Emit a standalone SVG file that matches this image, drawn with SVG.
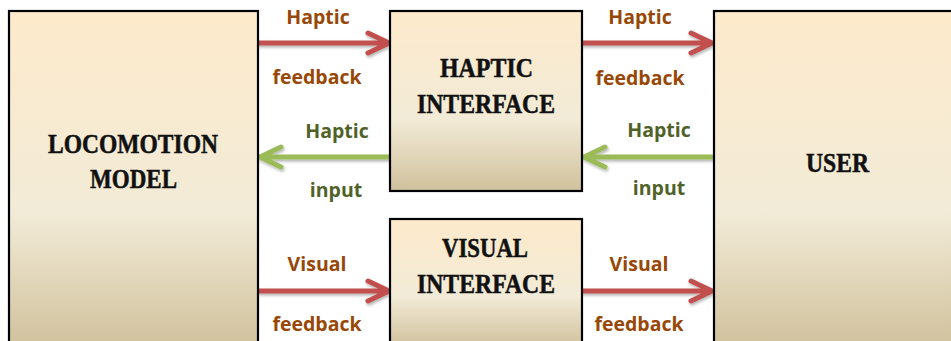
<svg xmlns="http://www.w3.org/2000/svg" width="951" height="341" viewBox="0 0 951 341">
<defs>
<linearGradient id="boxg" x1="0" y1="0" x2="0" y2="1">
<stop offset="0" stop-color="#FDEACB"/>
<stop offset="0.6" stop-color="#F2EBD7"/>
<stop offset="1" stop-color="#D0C19C"/>
</linearGradient>
<filter id="sh" x="-10%" y="-50%" width="130%" height="250%">
<feDropShadow dx="1" dy="2" stdDeviation="1.5" flood-color="#000" flood-opacity="0.3"/>
</filter>
<style>
.box{fill:url(#boxg);stroke:#000;stroke-width:2.2}
.bt{font-family:"Liberation Serif","Times New Roman",serif;font-weight:bold;font-size:27px;fill:#111;stroke:#111;stroke-width:0.5;text-anchor:middle}
.lbl{font-family:"Open Sans","Liberation Sans",sans-serif;font-weight:bold;font-size:19.5px;text-anchor:middle}
.red{fill:#984806}
.grn{fill:#4F6228}
.ar{fill:none;stroke-width:5;stroke-linecap:round;stroke-linejoin:round;filter:url(#sh)}
.ra{stroke:#C0504D}
.ga{stroke:#9BBB59}
</style>
</defs>
<g id="connectors">
<path class="ar ra" d="M259 43 H388 M368 33 L389 43 L368 53"/>
<path class="ar ra" d="M583 43 H711 M691 33 L712 43 L691 53"/>
<path class="ar ga" d="M712 157 H585 M605 147 L584 157 L605 167"/>
<path class="ar ga" d="M389 157 H261 M281 147 L260 157 L281 167"/>
<path class="ar ra" d="M259 291 H388 M368 281 L389 291 L368 301"/>
<path class="ar ra" d="M583 291 H711 M691 281 L712 291 L691 301"/>
<text class="lbl red" x="318" y="24">Haptic</text>
<text class="lbl red" x="317" y="84">feedback</text>
<text class="lbl red" x="640" y="24">Haptic</text>
<text class="lbl red" x="640" y="85">feedback</text>
<text class="lbl grn" x="337" y="138">Haptic</text>
<text class="lbl grn" x="336" y="197">input</text>
<text class="lbl grn" x="659" y="137">Haptic</text>
<text class="lbl grn" x="659" y="195">input</text>
<text class="lbl red" x="317" y="271">Visual</text>
<text class="lbl red" x="317" y="331">feedback</text>
<text class="lbl red" x="639" y="271">Visual</text>
<text class="lbl red" x="639" y="331">feedback</text>
</g>
<g id="locomotion">
<rect class="box" x="9" y="11" width="249" height="336"/>
<text class="bt" x="133" y="153" textLength="170" lengthAdjust="spacingAndGlyphs">LOCOMOTION</text>
<text class="bt" x="133.5" y="188" textLength="87" lengthAdjust="spacingAndGlyphs">MODEL</text>
</g>
<g id="haptic">
<rect class="box" x="390" y="11" width="192" height="180"/>
<text class="bt" x="486.5" y="77" textLength="93" lengthAdjust="spacingAndGlyphs">HAPTIC</text>
<text class="bt" x="486" y="113" textLength="138" lengthAdjust="spacingAndGlyphs">INTERFACE</text>
</g>
<g id="visual">
<rect class="box" x="390" y="219" width="192" height="128"/>
<text class="bt" x="485" y="257" textLength="86" lengthAdjust="spacingAndGlyphs">VISUAL</text>
<text class="bt" x="486" y="293" textLength="138" lengthAdjust="spacingAndGlyphs">INTERFACE</text>
</g>
<g id="user">
<rect class="box" x="714" y="11" width="250" height="336"/>
<text class="bt" x="837.5" y="172" textLength="63" lengthAdjust="spacingAndGlyphs">USER</text>
</g>
</svg>
